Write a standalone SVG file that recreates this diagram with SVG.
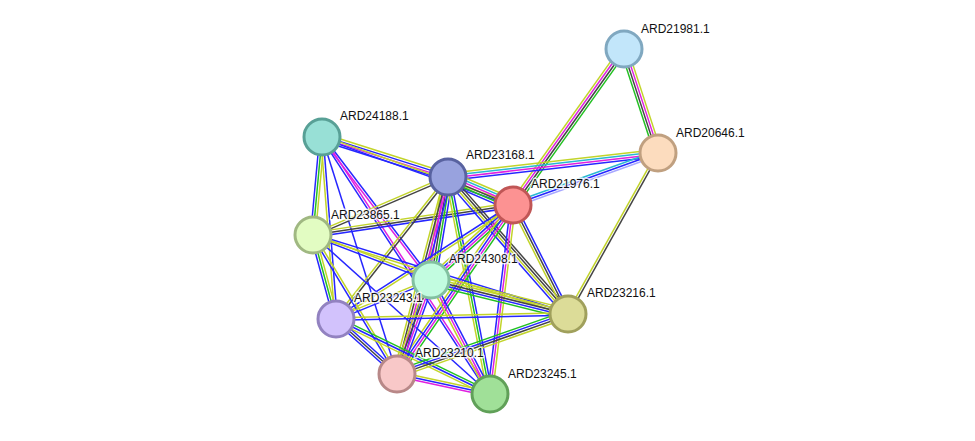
<svg xmlns="http://www.w3.org/2000/svg" width="975" height="441" viewBox="0 0 975 441">
<style>
line{stroke-width:1.5;fill:none}
.nb{stroke:#22c022}.co{stroke:#2626ff}.ex{stroke:#e020e0}.cx{stroke:#444}.tm{stroke:#c2d42a}.db{stroke:#28b8d2}.hm{stroke:#a8a8ff}
circle{stroke-width:3}
text{font-family:"Liberation Sans",Arial,sans-serif;font-size:12px;fill:#111;stroke:#fff;stroke-width:3;stroke-opacity:0.8;paint-order:stroke;stroke-linejoin:round}
</style>
<rect width="975" height="441" fill="#fff"/>
<g id="edges">
<g transform="translate(624,49) rotate(125.43)"><line x2="191.5" y1="-3.6" y2="-3.6" class="nb"/><line x2="191.5" y1="-1.2" y2="-1.2" class="cx"/><line x2="191.5" y1="1.2" y2="1.2" class="ex"/><line x2="191.5" y1="3.6" y2="3.6" class="tm"/></g>
<g transform="translate(624,49) rotate(71.9)"><line x2="109.4" y1="-3.6" y2="-3.6" class="tm"/><line x2="109.4" y1="-1.2" y2="-1.2" class="ex"/><line x2="109.4" y1="1.2" y2="1.2" class="cx"/><line x2="109.4" y1="3.6" y2="3.6" class="nb"/></g>
<g transform="translate(658,153) rotate(173.48)"><line x2="211.4" y1="3.6" y2="3.6" class="tm"/><line x2="211.4" y1="1.2" y2="1.2" class="db"/><line x2="211.4" y1="-1.2" y2="-1.2" class="ex"/><line x2="211.4" y1="-3.6" y2="-3.6" class="co"/></g>
<g transform="translate(658,153) rotate(160.27)"><line x2="154" y1="2.4" y2="2.4" class="db"/><line x2="154" y1="0" y2="0" class="co"/><line x2="154" y1="-2.4" y2="-2.4" class="hm"/></g>
<g transform="translate(658,153) rotate(119.21)"><line x2="184.4" y1="1.2" y2="1.2" class="tm"/><line x2="184.4" y1="-1.2" y2="-1.2" class="cx"/></g>
<g transform="translate(322,137) rotate(17.61)"><line x2="132.2" y1="-3.6" y2="-3.6" class="tm"/><line x2="132.2" y1="-1.2" y2="-1.2" class="co"/><line x2="132.2" y1="1.2" y2="1.2" class="ex"/><line x2="132.2" y1="3.6" y2="3.6" class="co"/></g>
<g transform="translate(322,137) rotate(19.6)"><line x2="202.7" y1="-1.2" y2="-1.2" class="tm"/><line x2="202.7" y1="1.2" y2="1.2" class="co"/></g>
<g transform="translate(322,137) rotate(95.25)"><line x2="98.4" y1="2.4" y2="2.4" class="co"/><line x2="98.4" y1="0" y2="0" class="nb"/><line x2="98.4" y1="-2.4" y2="-2.4" class="tm"/></g>
<g transform="translate(322,137) rotate(85.6)"><line x2="182.5" y1="-1.2" y2="-1.2" class="co"/><line x2="182.5" y1="1.2" y2="1.2" class="tm"/></g>
<g transform="translate(322,137) rotate(52.68)"><line x2="179.8" y1="-1.2" y2="-1.2" class="co"/><line x2="179.8" y1="1.2" y2="1.2" class="ex"/></g>
<g transform="translate(322,137) rotate(56.83)"><line x2="307" y1="-1.2" y2="-1.2" class="ex"/><line x2="307" y1="1.2" y2="1.2" class="co"/></g>
<g transform="translate(322,137) rotate(72.44)"><line x2="248.6" class="co"/></g>
<g transform="translate(448,177) rotate(23.3)"><line x2="70.8" y1="-6" y2="-6" class="tm"/><line x2="70.8" y1="-3.6" y2="-3.6" class="db"/><line x2="70.8" y1="-1.2" y2="-1.2" class="ex"/><line x2="70.8" y1="1.2" y2="1.2" class="cx"/><line x2="70.8" y1="3.6" y2="3.6" class="nb"/><line x2="70.8" y1="6" y2="6" class="co"/></g>
<g transform="translate(448,177) rotate(156.75)"><line x2="146.9" y1="-1.2" y2="-1.2" class="cx"/><line x2="146.9" y1="1.2" y2="1.2" class="tm"/></g>
<g transform="translate(513,205) rotate(171.47)"><line x2="202.2" y1="-2.4" y2="-2.4" class="co"/><line x2="202.2" y1="0" y2="0" class="cx"/><line x2="202.2" y1="2.4" y2="2.4" class="tm"/></g>
<g transform="translate(448,177) rotate(99.37)"><line x2="104.4" y1="-4.8" y2="-4.8" class="co"/><line x2="104.4" y1="-2.4" y2="-2.4" class="nb"/><line x2="104.4" y1="0" y2="0" class="cx"/><line x2="104.4" y1="2.4" y2="2.4" class="ex"/><line x2="104.4" y1="4.8" y2="4.8" class="tm"/></g>
<g transform="translate(448,177) rotate(128.26)"><line x2="180.9" y1="-1.2" y2="-1.2" class="cx"/><line x2="180.9" y1="1.2" y2="1.2" class="tm"/></g>
<g transform="translate(448,177) rotate(104.51)"><line x2="203.5" y1="-3.6" y2="-3.6" class="co"/><line x2="203.5" y1="-1.2" y2="-1.2" class="ex"/><line x2="203.5" y1="1.2" y2="1.2" class="cx"/><line x2="203.5" y1="3.6" y2="3.6" class="tm"/></g>
<g transform="translate(448,177) rotate(79.05)"><line x2="221" y1="-2.4" y2="-2.4" class="co"/><line x2="221" y1="0" y2="0" class="nb"/><line x2="221" y1="2.4" y2="2.4" class="tm"/></g>
<g transform="translate(448,177) rotate(48.79)"><line x2="182.1" y1="-3.6" y2="-3.6" class="cx"/><line x2="182.1" y1="-1.2" y2="-1.2" class="cx"/><line x2="182.1" y1="1.2" y2="1.2" class="tm"/><line x2="182.1" y1="3.6" y2="3.6" class="co"/></g>
<g transform="translate(513,205) rotate(137.55)"><line x2="111.1" y1="-3.6" y2="-3.6" class="nb"/><line x2="111.1" y1="-1.2" y2="-1.2" class="ex"/><line x2="111.1" y1="1.2" y2="1.2" class="co"/><line x2="111.1" y1="3.6" y2="3.6" class="tm"/></g>
<g transform="translate(513,205) rotate(63.22)"><line x2="122.1" y1="-2.4" y2="-2.4" class="co"/><line x2="122.1" y1="0" y2="0" class="cx"/><line x2="122.1" y1="2.4" y2="2.4" class="tm"/></g>
<g transform="translate(513,205) rotate(96.94)"><line x2="190.4" y1="-2.4" y2="-2.4" class="tm"/><line x2="190.4" y1="0" y2="0" class="ex"/><line x2="190.4" y1="2.4" y2="2.4" class="co"/></g>
<g transform="translate(513,205) rotate(124.46)"><line x2="205" y1="-3.6" y2="-3.6" class="nb"/><line x2="205" y1="-1.2" y2="-1.2" class="ex"/><line x2="205" y1="1.2" y2="1.2" class="co"/><line x2="205" y1="3.6" y2="3.6" class="tm"/></g>
<g transform="translate(513,205) rotate(147.22)"><line x2="210.5" y1="-1.2" y2="-1.2" class="tm"/><line x2="210.5" y1="1.2" y2="1.2" class="co"/></g>
<g transform="translate(313,235) rotate(20.87)"><line x2="126.3" y1="-1.2" y2="-1.2" class="tm"/><line x2="126.3" y1="1.2" y2="1.2" class="co"/></g>
<g transform="translate(313,235) rotate(74.69)"><line x2="87.1" y1="-2.4" y2="-2.4" class="tm"/><line x2="87.1" y1="0" y2="0" class="nb"/><line x2="87.1" y1="2.4" y2="2.4" class="co"/></g>
<g transform="translate(313,235) rotate(58.86)"><line x2="162.4" y1="-1.2" y2="-1.2" class="tm"/><line x2="162.4" y1="1.2" y2="1.2" class="co"/></g>
<g transform="translate(313,235) rotate(41.93)"><line x2="237.9" class="co"/></g>
<g transform="translate(313,235) rotate(17.21)"><line x2="267" y1="-1.2" y2="-1.2" class="co"/><line x2="267" y1="1.2" y2="1.2" class="tm"/></g>
<g transform="translate(431,280) rotate(157.68)"><line x2="102.7" y1="-1.2" y2="-1.2" class="co"/><line x2="102.7" y1="1.2" y2="1.2" class="tm"/></g>
<g transform="translate(431,280) rotate(13.94)"><line x2="141.2" y1="-4.8" y2="-4.8" class="tm"/><line x2="141.2" y1="-2.4" y2="-2.4" class="tm"/><line x2="141.2" y1="0" y2="0" class="cx"/><line x2="141.2" y1="2.4" y2="2.4" class="co"/><line x2="141.2" y1="4.8" y2="4.8" class="nb"/></g>
<g transform="translate(431,280) rotate(109.88)"><line x2="100" y1="-3.6" y2="-3.6" class="co"/><line x2="100" y1="-1.2" y2="-1.2" class="ex"/><line x2="100" y1="1.2" y2="1.2" class="cx"/><line x2="100" y1="3.6" y2="3.6" class="tm"/></g>
<g transform="translate(431,280) rotate(62.64)"><line x2="128.4" y1="-2.4" y2="-2.4" class="co"/><line x2="128.4" y1="0" y2="0" class="ex"/><line x2="128.4" y1="2.4" y2="2.4" class="tm"/></g>
<g transform="translate(336,319) rotate(-1.23)"><line x2="232.1" y1="-1.2" y2="-1.2" class="tm"/><line x2="232.1" y1="1.2" y2="1.2" class="co"/></g>
<g transform="translate(336,319) rotate(42.04)"><line x2="82.1" y1="-2.4" y2="-2.4" class="co"/><line x2="82.1" y1="0" y2="0" class="cx"/><line x2="82.1" y1="2.4" y2="2.4" class="co"/></g>
<g transform="translate(336,319) rotate(25.97)"><line x2="171.3" y1="-2.4" y2="-2.4" class="nb"/><line x2="171.3" y1="0" y2="0" class="co"/><line x2="171.3" y1="2.4" y2="2.4" class="tm"/></g>
<g transform="translate(397,374) rotate(-19.33)"><line x2="181.2" y1="-3.6" y2="-3.6" class="nb"/><line x2="181.2" y1="-1.2" y2="-1.2" class="co"/><line x2="181.2" y1="1.2" y2="1.2" class="cx"/><line x2="181.2" y1="3.6" y2="3.6" class="tm"/></g>
<g transform="translate(397,374) rotate(12.14)"><line x2="95.1" y1="-2.4" y2="-2.4" class="tm"/><line x2="95.1" y1="0" y2="0" class="co"/><line x2="95.1" y1="2.4" y2="2.4" class="ex"/></g>
</g>
<g id="ARD21981.1"><circle cx="624" cy="49" r="18" fill="#c2e6fa" stroke="#80a8c0"/><text x="641" y="33">ARD21981.1</text></g>
<g id="ARD20646.1"><circle cx="658" cy="153" r="18" fill="#fcdcbe" stroke="#c0a080"/><text x="676" y="137">ARD20646.1</text></g>
<g id="ARD24188.1"><circle cx="322" cy="137" r="18" fill="#98e0d6" stroke="#58a096"/><text x="340" y="120">ARD24188.1</text></g>
<g id="ARD23168.1"><circle cx="448" cy="177" r="18" fill="#98a2de" stroke="#5862a0"/><text x="466" y="159">ARD23168.1</text></g>
<g id="ARD21976.1"><circle cx="513" cy="205" r="18" fill="#fc9292" stroke="#c05656"/><text x="531" y="188">ARD21976.1</text></g>
<g id="ARD23865.1"><circle cx="313" cy="235" r="18" fill="#e2fcc2" stroke="#a0b882"/><text x="331" y="219">ARD23865.1</text></g>
<g id="ARD24308.1"><circle cx="431" cy="280" r="18" fill="#c2fce0" stroke="#82c0a0"/><text x="449" y="263">ARD24308.1</text></g>
<g id="ARD23243.1"><circle cx="336" cy="319" r="18" fill="#d2c2fc" stroke="#9282c0"/><text x="354" y="302">ARD23243.1</text></g>
<g id="ARD23216.1"><circle cx="568" cy="314" r="18" fill="#dcdc98" stroke="#a0a05c"/><text x="587" y="297">ARD23216.1</text></g>
<g id="ARD23210.1"><circle cx="397" cy="374" r="18" fill="#f8c8c8" stroke="#b88888"/><text x="415" y="357">ARD23210.1</text></g>
<g id="ARD23245.1"><circle cx="490" cy="394" r="18" fill="#a0e098" stroke="#60a058"/><text x="508" y="378">ARD23245.1</text></g>
</svg>
